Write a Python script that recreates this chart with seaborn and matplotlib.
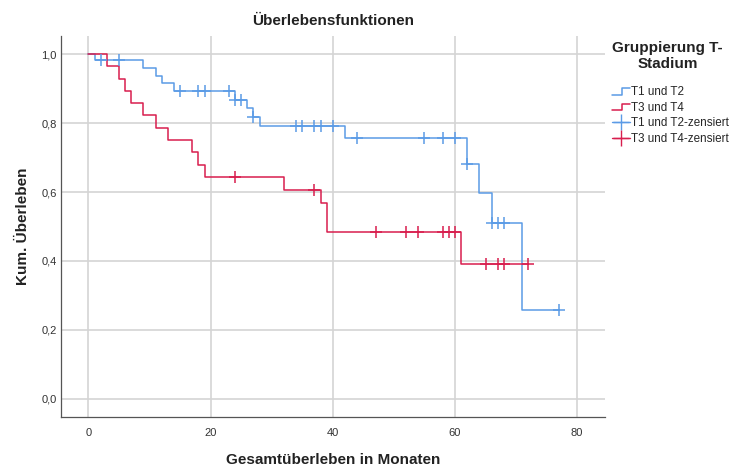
import numpy as np
import pandas as pd
import matplotlib
matplotlib.use("Agg")
import matplotlib.pyplot as plt
from matplotlib.lines import Line2D
from matplotlib.legend_handler import HandlerBase
import seaborn as sns

# Kaplan-Meier steps (months, cumulative survival)
t12_times = [0, 1, 9, 11, 12, 14, 24, 26, 27, 28, 42, 62, 64, 66, 71]
t12_surv = [1.0, 0.982, 0.960, 0.938, 0.917, 0.892, 0.868, 0.844, 0.817, 0.793,
            0.757, 0.681, 0.597, 0.510, 0.258]
t12_end = 77
t12_censored = [2, 5, 15, 18, 19, 23, 24, 25, 27, 34, 35, 37, 38, 40, 44, 55,
                58, 60, 62, 66, 67, 68, 77]

t34_times = [0, 3, 5, 6, 7, 9, 11, 13, 17, 18, 19, 32, 38, 39, 61]
t34_surv = [1.0, 0.965, 0.928, 0.892, 0.859, 0.823, 0.786, 0.752, 0.715, 0.679,
            0.644, 0.607, 0.568, 0.485, 0.391]
t34_end = 72
t34_censored = [24, 37, 47, 52, 54, 58, 59, 60, 65, 67, 68, 72]

groups = ["T1 und T2", "T3 und T4"]
x_ticks = [0, 20, 40, 60, 80]
y_ticks = [0.0, 0.2, 0.4, 0.6, 0.8, 1.0]

BLUE = "#5b9be6"
RED = "#d81e4e"


def step_frame(name, times, surv, end):
    return pd.DataFrame({"time": list(times) + [end],
                         "surv": list(surv) + [surv[-1]],
                         "group": name})


def censor_frame(name, times, surv, cens):
    idx = np.searchsorted(times, cens, side="right") - 1
    return pd.DataFrame({"time": cens, "surv": np.array(surv)[idx], "group": name})


steps = pd.concat([step_frame(groups[0], t12_times, t12_surv, t12_end),
                   step_frame(groups[1], t34_times, t34_surv, t34_end)])
cens = pd.concat([censor_frame(groups[0], t12_times, t12_surv, t12_censored),
                  censor_frame(groups[1], t34_times, t34_surv, t34_censored)])

sns.set_style("white")
plt.rcParams["font.family"] = ["Liberation Sans", "DejaVu Sans"]

fig = plt.figure(figsize=(7.32, 4.66), dpi=100)
ax = fig.add_axes([0.0833, 0.1058, 0.7427, 0.8169])

palette = {groups[0]: BLUE, groups[1]: RED}
sns.lineplot(data=steps, x="time", y="surv", hue="group", palette=palette,
             estimator=None, sort=False, drawstyle="steps-post", linewidth=1.1,
             legend=False, ax=ax)
for g in groups:
    sub = cens[cens["group"] == g]
    ax.plot(sub["time"], sub["surv"], linestyle="none", marker="+",
            markersize=8, markeredgewidth=1.1, color=palette[g])

ax.set_xlim(-4.5, 84.5)
ax.set_ylim(-0.052, 1.053)
ax.set_xticks(x_ticks)
ax.set_yticks(y_ticks)
ax.set_yticklabels([f"{v:.1f}".replace(".", ",") for v in y_ticks])
ax.tick_params(axis="both", length=0, labelsize=8, colors="#333333")
ax.tick_params(axis="x", pad=8)
ax.tick_params(axis="y", pad=3)
ax.grid(True, color="#d4d4d4", linewidth=1.2)
ax.set_axisbelow(True)
for s in ["top", "right"]:
    ax.spines[s].set_visible(False)
for s in ["left", "bottom"]:
    ax.spines[s].set_color("#555555")
    ax.spines[s].set_linewidth(0.9)

ax.set_xlabel("Gesamtüberleben in Monaten", fontsize=11, fontweight="bold",
              color="#222222", labelpad=11)
ax.set_ylabel("Kum. Überleben", fontsize=11, fontweight="bold",
              color="#222222", labelpad=8)
ax.set_title("Überlebensfunktionen", fontsize=11, fontweight="bold",
             color="#222222", pad=8)


class StepHandler(HandlerBase):
    def create_artists(self, legend, orig_handle, xdescent, ydescent,
                       width, height, fontsize, trans):
        xs = [0, width * 0.55, width * 0.55, width]
        ys = [height * 0.05, height * 0.05, height * 0.85, height * 0.85]
        ln = Line2D(xs, ys, color=orig_handle.get_color(), linewidth=1.1,
                    transform=trans)
        return [ln]


handles = [Line2D([], [], color=BLUE), Line2D([], [], color=RED),
           Line2D([], [], color=BLUE, marker="+", markersize=12,
                  markeredgewidth=1.0, linewidth=1.0),
           Line2D([], [], color=RED, marker="+", markersize=12,
                  markeredgewidth=1.0, linewidth=1.0)]
labels = ["T1 und T2", "T3 und T4", "T1 und T2-zensiert", "T3 und T4-zensiert"]
leg = fig.legend(handles, labels, loc="upper left", bbox_to_anchor=(0.822, 0.935),
                 frameon=False, fontsize=8.4, handlelength=1.5, handletextpad=0.15,
                 labelspacing=0.3, title="Gruppierung T-\nStadium",
                 title_fontproperties={"weight": "bold", "size": 11},
                 handler_map={handles[0]: StepHandler(), handles[1]: StepHandler()})
leg._legend_box.align = "left"
leg._legend_box.sep = 11
leg.get_title().set_ha("center")
leg.get_title().set_color("#222222")

fig.savefig("out.png", dpi=100)
